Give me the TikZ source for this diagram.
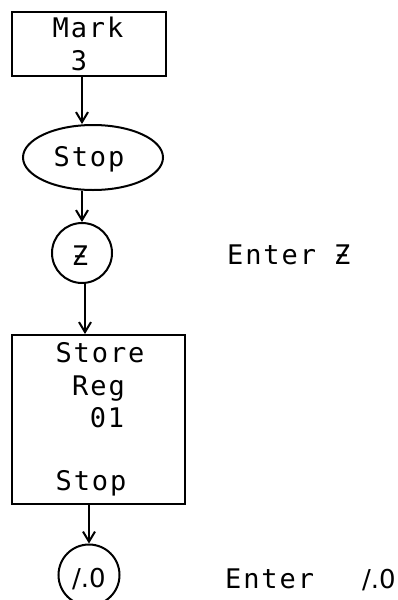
\documentclass[tikz,border=0pt]{standalone}
\usepackage{fontspec}
\usetikzlibrary{arrows.meta,shapes.geometric}
\newfontfamily\dmfont[LetterSpace=7]{DejaVu Sans Mono}
\newfontfamily\propfont{DejaVu Sans}
\begin{document}
\begin{tikzpicture}[x=1pt,y=-1pt,
  ink/.style={line width=2pt,black},
  boxshape/.style={ink,draw,rectangle,inner sep=0pt},
  ovalshape/.style={ink,draw,ellipse,inner sep=0pt,minimum width=140pt,minimum height=65pt},
  roundshape/.style={ink,draw,circle,inner sep=0pt},
  lbl/.style={inner sep=0pt,font=\dmfont\fontsize{27}{32}\selectfont},
  small/.style={inner sep=0pt,font=\propfont\fontsize{26}{30}\selectfont},
  arr/.style={ink,-{Straight Barb[length=10pt,width=12pt,line width=2pt]}}]
\useasboundingbox (0,0) rectangle (398,600);

% flow boxes
\node[boxshape,minimum width=154pt,minimum height=64pt] (mark) at (89,44) {};
\node[ovalshape] (stop) at (93,157.5) {};
\node[roundshape,minimum size=60pt] (z) at (82,253) {};
\node[boxshape,minimum width=173pt,minimum height=169pt] (store) at (98.5,419.5) {};
\node[roundshape,minimum size=61pt] (zz) at (89,575) {};

% texts inside the shapes
\node[lbl,anchor=base] (tmark) at (88,37) {Mark};
\node[lbl,anchor=base] (tthree) at (79,70) {3};
\node[lbl,anchor=base] (tstop) at (89,166) {Stop};
\node[lbl,anchor=base] (tz) at (80,265) {Ƶ};
\node[lbl,anchor=base] (tstore) at (100,362) {Store};
\node[lbl,anchor=base] (treg) at (98.5,395) {Reg};
\node[lbl,anchor=base] (treg01) at (107,427) {01};
\node[lbl,anchor=base] (tstop2) at (91,490) {Stop};
\node[small,anchor=base] (tzz) at (89,587) {/.0};

% side notes
\node[lbl,anchor=base west] (enterz) at (227,264) {Enter Ƶ};
\node[lbl,anchor=base west] (enterzz) at (225,588) {Enter};
\node[small,anchor=base west] (zzval) at (362,588) {/.0};

% connectors
\draw[arr] (mark.south -| z) -- (stop.north -| z);
\draw[arr] (stop.south -| z) -- (z.north);
\draw[arr] ([xshift=3pt]z.south) -- ([xshift=3pt]store.north -| z);
\draw[arr] (store.south -| zz) -- (zz.north);
\end{tikzpicture}
\end{document}
